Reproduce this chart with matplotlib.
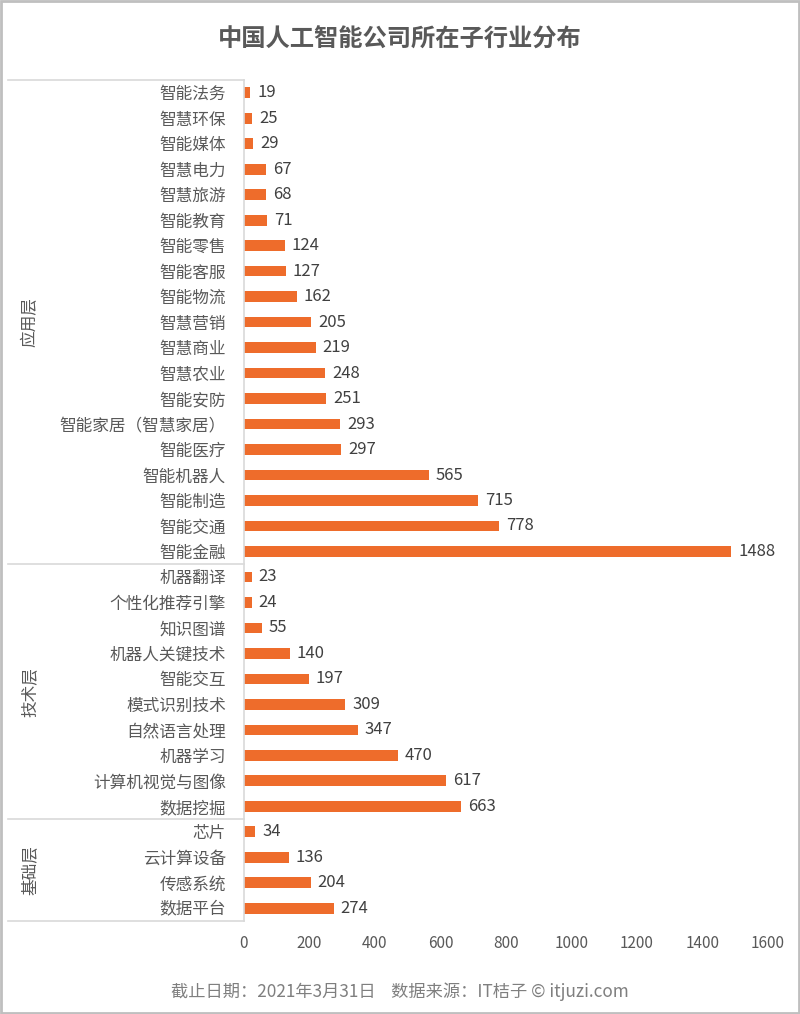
import numpy as np
import matplotlib
matplotlib.use('Agg')
import matplotlib.pyplot as plt
from matplotlib.lines import Line2D
from matplotlib.patches import Rectangle

plt.rcParams['font.family'] = ['Noto Sans CJK SC', 'DejaVu Sans']

app_names = ['智能法务', '智慧环保', '智能媒体', '智慧电力', '智慧旅游', '智能教育',
             '智能零售', '智能客服', '智能物流', '智慧营销', '智慧商业', '智慧农业',
             '智能安防', '智能家居（智慧家居）', '智能医疗', '智能机器人', '智能制造',
             '智能交通', '智能金融']
app_vals = [19, 25, 29, 67, 68, 71, 124, 127, 162, 205, 219, 248, 251, 293, 297,
            565, 715, 778, 1488]
tech_names = ['机器翻译', '个性化推荐引擎', '知识图谱', '机器人关键技术', '智能交互',
              '模式识别技术', '自然语言处理', '机器学习', '计算机视觉与图像', '数据挖掘']
tech_vals = [23, 24, 55, 140, 197, 309, 347, 470, 617, 663]
base_names = ['芯片', '云计算设备', '传感系统', '数据平台']
base_vals = [34, 136, 204, 274]
groups = ['应用层', '技术层', '基础层']
x_ticks = [0, 200, 400, 600, 800, 1000, 1200, 1400, 1600]

names = app_names + tech_names + base_names
vals = app_vals + tech_vals + base_vals
sizes = [len(app_names), len(tech_names), len(base_names)]

W, H = 800, 1014
fig = plt.figure(figsize=(W / 100, H / 100), dpi=100)
ax_l, ax_r, ax_t, ax_b = 244, 768, 80, 921
ax = fig.add_axes([ax_l / W, 1 - ax_b / H, (ax_r - ax_l) / W, (ax_b - ax_t) / H])

txt = '#595959'
orange = '#EE6C2B'
grid_c = '#D9D9D9'

y = np.arange(len(names))
ax.barh(y, vals, height=0.42, color=orange)
for yi, v in zip(y, vals):
    ax.annotate(str(v), (v, yi), xytext=(5, 0), textcoords='offset points',
                va='center', ha='left', fontsize=12, color='#404040')

ax.set_ylim(len(names) - 0.5, -0.5)
ax.set_xlim(0, 1600)
ax.set_yticks(y)
ax.set_yticklabels(names, fontsize=12, color=txt)
ax.set_xticks(x_ticks)
ax.set_xticklabels([str(t) for t in x_ticks], fontsize=11, color=txt)
ax.tick_params(axis='y', length=0, pad=13)
ax.tick_params(axis='x', length=0, pad=10)
for s in ['top', 'right', 'bottom']:
    ax.spines[s].set_visible(False)
ax.spines['left'].set_color(grid_c)
ax.spines['left'].set_linewidth(1.2)

# group separators and labels
bounds = np.concatenate([[0], np.cumsum(sizes)])
for b in bounds:
    yf = ax_t + (b / len(names)) * (ax_b - ax_t)
    fig.add_artist(Line2D([8 / W, ax_l / W], [1 - yf / H, 1 - yf / H],
                          color=grid_c, lw=1.2))
for g, b0, b1 in zip(groups, bounds[:-1], bounds[1:]):
    ym = ax_t + ((b0 + b1) / 2 / len(names)) * (ax_b - ax_t)
    fig.text(30 / W, 1 - ym / H, g, rotation=90, ha='center', va='center',
             fontsize=12, color=txt)

fig.text(0.5, 1 - 40 / H, '中国人工智能公司所在子行业分布', ha='center', va='center',
         fontsize=17.5, fontweight='bold', color=txt)
fig.text(0.5, 1 - 992 / H, '截止日期：2021年3月31日    数据来源：IT桔子 © itjuzi.com',
         ha='center', va='center', fontsize=12.4, color='#7F7F7F')

fig.add_artist(Rectangle((0.001, 0.001), 0.998, 0.998, transform=fig.transFigure,
                         fill=False, edgecolor='#BFBFBF', lw=2))

fig.savefig('out.png', dpi=100)
